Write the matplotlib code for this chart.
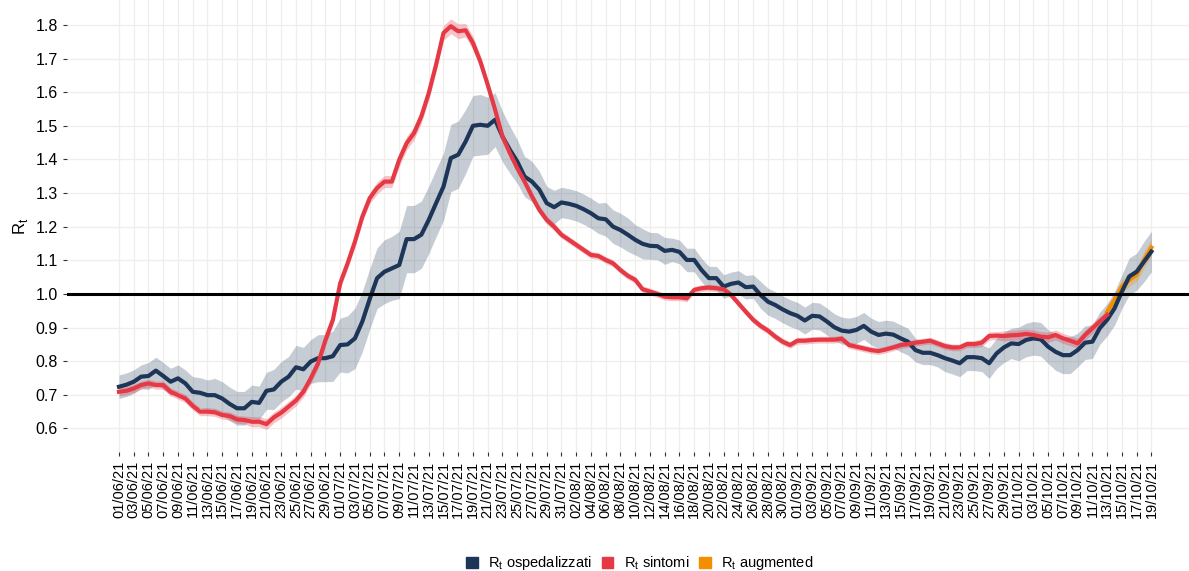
# Rt: ospedalizzati vs sintomi vs augmented

import numpy as np
import pandas as pd
import matplotlib
matplotlib.use("Agg")
import matplotlib.pyplot as plt
import matplotlib.dates as mdates
from matplotlib.patches import Patch

plt.rcParams["font.family"] = ["Liberation Sans", "DejaVu Sans"]

# valori (un valore al giorno dal 01/06/21)
start_day = "2021-06-01"

rt_osp = [
    0.724, 0.730, 0.739, 0.754, 0.756, 0.772, 0.756, 0.739, 0.749, 0.734,
    0.709, 0.706, 0.699, 0.699, 0.689, 0.673, 0.660, 0.660, 0.679, 0.676,
    0.712, 0.716, 0.739, 0.754, 0.782, 0.776, 0.799, 0.809, 0.809, 0.815,
    0.848, 0.850, 0.868, 0.918, 0.985, 1.047, 1.066, 1.076, 1.086, 1.163,
    1.163, 1.176, 1.220, 1.270, 1.319, 1.404, 1.414, 1.453, 1.500, 1.503,
    1.500, 1.518, 1.468, 1.429, 1.394, 1.349, 1.334, 1.310, 1.270, 1.258,
    1.272, 1.268, 1.262, 1.252, 1.240, 1.225, 1.222, 1.200, 1.190, 1.176,
    1.161, 1.149, 1.143, 1.142, 1.128, 1.131, 1.125, 1.101, 1.101, 1.071,
    1.047, 1.047, 1.022, 1.030, 1.034, 1.020, 1.022, 0.997, 0.977, 0.967,
    0.954, 0.943, 0.935, 0.921, 0.935, 0.933, 0.918, 0.901, 0.891, 0.888,
    0.893, 0.905, 0.888, 0.878, 0.882, 0.879, 0.868, 0.858, 0.833, 0.825,
    0.825, 0.818, 0.809, 0.802, 0.794, 0.812, 0.812, 0.809, 0.794, 0.823,
    0.841, 0.853, 0.851, 0.863, 0.868, 0.865, 0.843, 0.828, 0.818, 0.818,
    0.833, 0.855, 0.858, 0.898, 0.923, 0.957, 1.007, 1.052, 1.066, 1.096,
    1.126,
]
ci_osp = [
    .035, .035, .035, .035, .040, .040, .040, .040, .040, .040,
    .045, .045, .045, .050, .050, .050, .050, .050, .050, .050,
    .055, .060, .060, .060, .065, .065, .065, .070, .070, .075,
    .080, .085, .090, .090, .090, .090, .095, .095, .100, .100,
    .100, .100, .100, .100, .100, .100, .100, .095, .090, .090,
    .085, .080, .075, .070, .065, .060, .060, .055, .050, .050,
    .045, .045, .045, .045, .045, .045, .050, .050, .050, .050,
    .045, .045, .040, .040, .040, .035, .035, .035, .035, .035,
    .035, .035, .035, .035, .035, .035, .035, .040, .040, .040,
    .040, .040, .040, .040, .040, .040, .040, .040, .040, .040,
    .040, .040, .040, .040, .040, .040, .040, .040, .035, .035,
    .035, .035, .040, .040, .040, .040, .040, .040, .045, .045,
    .045, .045, .050, .050, .050, .050, .050, .055, .055, .055,
    .050, .050, .050, .048, .048, .050, .050, .055, .055, .060,
    .060,
]

rt_sint = [
    0.709, 0.712, 0.719, 0.729, 0.734, 0.729, 0.729, 0.709, 0.699, 0.689,
    0.667, 0.650, 0.650, 0.648, 0.640, 0.637, 0.627, 0.625, 0.620, 0.620,
    0.613, 0.633, 0.647, 0.665, 0.683, 0.709, 0.749, 0.794, 0.863, 0.923,
    1.032, 1.091, 1.156, 1.230, 1.285, 1.315, 1.334, 1.334, 1.399, 1.448,
    1.478, 1.528, 1.597, 1.682, 1.776, 1.796, 1.781, 1.784, 1.746, 1.691,
    1.622, 1.548, 1.468, 1.419, 1.374, 1.334, 1.290, 1.250, 1.220, 1.200,
    1.176, 1.161, 1.146, 1.131, 1.116, 1.113, 1.101, 1.091, 1.071, 1.054,
    1.042, 1.014, 1.007, 1.000, 0.992, 0.990, 0.990, 0.987, 1.012, 1.017,
    1.019, 1.017, 1.014, 0.997, 0.972, 0.947, 0.923, 0.905, 0.891, 0.873,
    0.858, 0.848, 0.861, 0.861, 0.863, 0.864, 0.864, 0.864, 0.867, 0.848,
    0.843, 0.838, 0.833, 0.830, 0.835, 0.841, 0.848, 0.851, 0.855, 0.858,
    0.861, 0.853, 0.845, 0.841, 0.841, 0.851, 0.851, 0.855, 0.875, 0.876,
    0.875, 0.877, 0.878, 0.881, 0.878, 0.873, 0.871, 0.878, 0.868, 0.861,
    0.853, 0.878, 0.898, 0.918, 0.938,
]
ci_sint = [
    .012, .012, .012, .012, .012, .012, .012, .012, .012, .012,
    .012, .012, .012, .012, .012, .012, .012, .012, .015, .015,
    .016, .016, .016, .016, .016, .016, .016, .016, .016, .016,
    .016, .016, .016, .016, .016, .018, .018, .018, .020, .020,
    .020, .020, .020, .020, .022, .022, .022, .020, .020, .018,
    .016, .014, .012, .012, .012, .012, .012, .012, .012, .012,
    .010, .010, .010, .010, .010, .010, .010, .010, .010, .010,
    .010, .010, .010, .010, .010, .010, .010, .010, .010, .010,
    .010, .010, .010, .010, .010, .010, .010, .010, .010, .010,
    .010, .010, .010, .010, .010, .010, .010, .010, .010, .010,
    .010, .010, .010, .010, .010, .010, .010, .010, .010, .010,
    .010, .010, .010, .010, .010, .010, .010, .012, .012, .012,
    .015, .015, .015, .015, .015, .015, .015, .015, .015, .015,
    .015, .015, .015, .015, .015,
]

aug_start = "2021-10-13"
rt_aug = [0.947, 0.982, 1.022, 1.042, 1.057, 1.101, 1.138]
ci_aug = [0.020, 0.020, 0.020, 0.020, 0.020, 0.025, 0.025]

c_osp = "#1d3557"
c_sint = "#e63946"
c_aug = "#f28e00"


def main():
    d_osp = pd.date_range(start_day, periods=len(rt_osp))
    d_sint = pd.date_range(start_day, periods=len(rt_sint))
    d_aug = pd.date_range(aug_start, periods=len(rt_aug))
    y_osp, e_osp = np.array(rt_osp), np.array(ci_osp)
    y_sint, e_sint = np.array(rt_sint), np.array(ci_sint)
    y_aug, e_aug = np.array(rt_aug), np.array(ci_aug)

    fig = plt.figure(figsize=(11.89, 5.71), dpi=100)
    ax = fig.add_axes([0.0563, 0.2084, 0.9437, 0.7916])

    ax.fill_between(d_osp, y_osp - e_osp, y_osp + e_osp, color=c_osp, alpha=0.25, lw=0)
    ax.fill_between(d_sint, y_sint - e_sint, y_sint + e_sint, color=c_sint, alpha=0.3, lw=0)
    ax.fill_between(d_aug, y_aug - e_aug, y_aug + e_aug, color=c_aug, alpha=0.3, lw=0)

    ax.plot(d_aug, y_aug, color=c_aug, lw=3)
    ax.plot(d_osp, y_osp, color=c_osp, lw=3)
    ax.plot(d_sint, y_sint, color=c_sint, lw=3)
    ax.axhline(1.0, color="black", lw=2.2)

    ax.set_ylim(0.53, 1.874)
    ax.set_yticks(np.arange(0.6, 1.81, 0.1))
    ax.yaxis.set_major_formatter(plt.FormatStrFormatter("%.1f"))
    ax.set_xlim(d_osp[0] - pd.Timedelta(days=7.06), d_osp[-1] + pd.Timedelta(days=5.1))
    ax.set_xticks(d_osp[::2])
    ax.xaxis.set_major_formatter(mdates.DateFormatter("%d/%m/%y"))
    ax.tick_params(axis="x", rotation=90, labelsize=10.5, length=3, color="#333333",
                   labelcolor="black")
    ax.tick_params(axis="y", labelsize=11.5, length=3, color="#333333", labelcolor="black")
    ax.set_ylabel(r"R$_\mathregular{t}$", fontsize=12, labelpad=4)

    ax.grid(color="#efeeea", lw=0.9)
    ax.set_axisbelow(True)
    for s in ax.spines.values():
        s.set_visible(False)

    handles = [
        Patch(color=c_osp, label=r"R$_\mathregular{t}$ ospedalizzati"),
        Patch(color=c_sint, label=r"R$_\mathregular{t}$ sintomi"),
        Patch(color=c_aug, label=r"R$_\mathregular{t}$ augmented"),
    ]
    fig.legend(handles=handles, loc="lower center", bbox_to_anchor=(0.538, -0.025), ncol=3,
               frameon=False, fontsize=10.5, handlelength=0.8, handleheight=0.8,
               columnspacing=0.7, handletextpad=0.7)

    fig.savefig("out.png", dpi=100)


if __name__ == "__main__":
    main()
